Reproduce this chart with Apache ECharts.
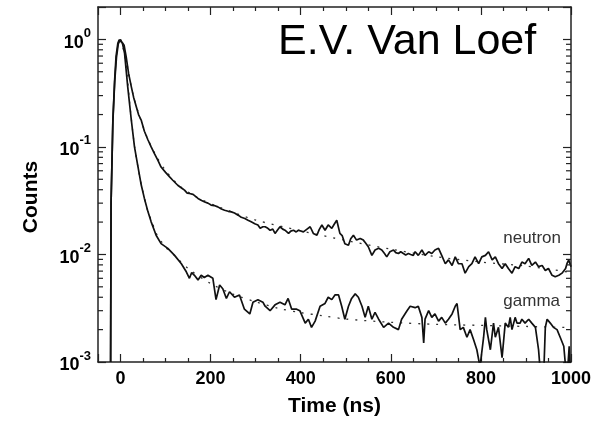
<!DOCTYPE html>
<html>
<head>
<meta charset="utf-8">
<script src="https://cdn.jsdelivr.net/npm/echarts@6/dist/echarts.min.js"></script>
<style>
  html, body { margin: 0; padding: 0; background: #fff; }
  #chart { width: 602px; height: 422px; }
</style>
</head>
<body>
<div id="chart"></div>
<script>
// Scintillation pulse shapes: time (ns) vs normalised counts
const neutronCounts = [
  [-22,0.001],[-21,0.03],[-17,0.17],[-13,0.40],[-9,0.68],[-5,0.91],[-1,0.99],[3,1.0],[8,0.88],[12.5,0.69],
  [18,0.48],[24,0.362],[29,0.29],[35,0.236],[40,0.2],[46,0.177],[53,0.14],[61,0.116],[68,0.1],[75,0.087],
  [83,0.075],[90,0.065],[100,0.058],[109,0.0527],[116,0.049],[120,0.047],[127,0.044],[131,0.0426],[137,0.041],
  [142,0.0396],[148,0.0372],[153,0.0369],[157,0.0356],[161,0.0362],[165,0.035],[172,0.0332],[176,0.0335],
  [180,0.0318],[187,0.0308],[194,0.0300],[198,0.0305],[201,0.0288],[208,0.0285],[212,0.0290],[216,0.0277],
  [224,0.0265],[228,0.0268],[231,0.0258],[239,0.0252],[246,0.0249],[250,0.0240],[253,0.0243],[257,0.0236],
  [261,0.0232],[268,0.0222],[272,0.0225],[276,0.0216],[283,0.0208],[287,0.0212],[290,0.0201],[298,0.0193],
  [302,0.0196],[305,0.0188],[310,0.0175],[316,0.0181],[321,0.0181],[327,0.0175],[332,0.0168],[338,0.0172],
  [343,0.0157],[349,0.0170],[354,0.0181],[360,0.0172],[365,0.0168],[373,0.0157],[378,0.0165],[384,0.0168],
  [390,0.0162],[395,0.0168],[406,0.0162],[414,0.0172],[421,0.0181],[428,0.0157],[436,0.0151],[441,0.0170],
  [447,0.0188],[454,0.0168],[461,0.0188],[469,0.0175],[474,0.0190],[480,0.0208],[487,0.0157],[492,0.0150],
  [498,0.0126],[506,0.0122],[511,0.0140],[517,0.0151],[524,0.0136],[532,0.0141],[539,0.0136],[544,0.0128],
  [550,0.0118],[558,0.0098],[565,0.0110],[573,0.0114],[580,0.0110],[586,0.0102],[591,0.0095],[598,0.0106],
  [606,0.0110],[611,0.0104],[617,0.0102],[622,0.0106],[628,0.0102],[633,0.0099],[639,0.0102],[644,0.0100],
  [650,0.0098],[654,0.0106],[661,0.0098],[669,0.0110],[676,0.0098],[684,0.0106],[691,0.0102],[698,0.0110],
  [706,0.0114],[713,0.0098],[721,0.0082],[728,0.0089],[736,0.0079],[743,0.0095],[750,0.0082],[758,0.0082],
  [765,0.0067],[773,0.0077],[780,0.0082],[787,0.0095],[795,0.0082],[802,0.0095],[810,0.0098],[817,0.0106],
  [825,0.0089],[832,0.0095],[839,0.0082],[847,0.0074],[854,0.0082],[861,0.0074],[869,0.0067],[876,0.0077],
  [884,0.0074],[891,0.0085],[898,0.0082],[906,0.0092],[913,0.0079],[921,0.0085],[928,0.0077],[936,0.0079],
  [943,0.0071],[950,0.0074],[958,0.0064],[965,0.0062],[973,0.0064],[980,0.0067],[988,0.0074],[991,0.0082],
  [995,0.0089],[1000,0.0077]
];

const gammaCounts = [
  [-22,0.001],[-21,0.03],[-17,0.178],[-13,0.42],[-10,0.69],[-6,0.92],[-3,0.99],[0,1.0],[4,0.93],[9,0.74],
  [16,0.362],[24,0.177],[31,0.1],[38,0.068],[46,0.0442],[53,0.0332],[61,0.0249],[68,0.0201],[79,0.0151],
  [90,0.0126],[105,0.0114],[120,0.0098],[135,0.0082],[146,0.0069],[153,0.0060],[158,0.0068],[164,0.0064],
  [172,0.0058],[179,0.0064],[186,0.0061],[194,0.0064],[205,0.0060],[212,0.0038],[220,0.0052],[227,0.0048],
  [235,0.0039],[242,0.0045],[253,0.0040],[264,0.0042],[275,0.0031],[287,0.0028],[294,0.0036],[305,0.0038],
  [316,0.0036],[321,0.0033],[332,0.0030],[343,0.0034],[354,0.0036],[365,0.0034],[372,0.0039],[380,0.0031],
  [391,0.0031],[398,0.0030],[410,0.0023],[417,0.0025],[424,0.0021],[432,0.0024],[443,0.0033],[454,0.0035],
  [461,0.0040],[469,0.0038],[476,0.0042],[484,0.0042],[491,0.0033],[498,0.0025],[506,0.0033],[513,0.0039],
  [521,0.0043],[528,0.0040],[536,0.0033],[543,0.0026],[550,0.0033],[558,0.0025],[565,0.0029],[573,0.0025],
  [584,0.0021],[595,0.0023],[606,0.0021],[617,0.0020],[624,0.0025],[636,0.0030],[643,0.0033],[654,0.0032],
  [661,0.0033],[669,0.0026],[673,0.0015],[676,0.0025],[684,0.0030],[691,0.0026],[698,0.0028],[706,0.0024],
  [713,0.0026],[721,0.0023],[728,0.0025],[736,0.0028],[743,0.0033],[747,0.0035],[754,0.0020],[761,0.0021],
  [769,0.0017],[776,0.0020],[784,0.0016],[791,0.0013],[798,0.0009],[806,0.0017],[810,0.0026],[813,0.0020],
  [821,0.0013],[828,0.0023],[832,0.0017],[839,0.0021],[847,0.0011],[854,0.0023],[861,0.0021],[865,0.0026],
  [869,0.0020],[876,0.0026],[880,0.0023],[887,0.0023],[891,0.0025],[898,0.0023],[906,0.0025],[913,0.0023],
  [921,0.0021],[928,0.0013],[931,0.0009],[940,0.0009],[943,0.0021],[947,0.0025],[954,0.0023],[961,0.0021],
  [969,0.0020],[976,0.0017],[984,0.0014],[988,0.0009],[993,0.0009],[996,0.0014],[998,0.0009]
];

// Fitted decay curves
const neutronFit = [
  [0,1.0],[10,0.741],[20,0.437],[30,0.282],[45,0.178],[60,0.120],[80,0.0813],[100,0.0603],[130,0.0437],
  [170,0.0339],[220,0.0275],[300,0.0209],[400,0.0166],[500,0.0135],[600,0.0112],[700,0.00955],[800,0.0085],
  [900,0.0078],[1000,0.0068]
];
const gammaFit = [
  [0,1.0],[10,0.692],[20,0.263],[30,0.110],[40,0.0603],[50,0.038],[60,0.0257],[70,0.02],[80,0.0155],
  [100,0.0117],[120,0.0098],[150,0.00741],[200,0.00537],[250,0.00427],[300,0.00363],[350,0.00316],
  [400,0.00288],[450,0.00269],[500,0.00251],[600,0.00234],[700,0.00224],[800,0.00219],[900,0.00214],
  [1000,0.00209]
];

// Axis ranges and the 2..9 sub-decade ticks of the log axis
const X_MIN = -50, X_MAX = 1000;
const Y_MIN = 0.001, Y_MAX = 2;
const yMinorTicks = [
  0.002,0.003,0.004,0.005,0.006,0.007,0.008,0.009,
  0.02,0.03,0.04,0.05,0.06,0.07,0.08,0.09,
  0.2,0.3,0.4,0.5,0.6,0.7,0.8,0.9
];

const FONT = '"Liberation Sans", Arial, Helvetica, sans-serif';
const AXIS_COLOR = '#222';

const chart = echarts.init(document.getElementById('chart'), null, { renderer: 'canvas' });

function powerLabel(v) {
  const e = Math.log10(v);
  const r = Math.round(e);
  if (Math.abs(e - r) > 1e-6) return '';
  return '{b|10}{s|' + r + '}';
}

const xAxisCommon = {
  type: 'value', min: X_MIN, max: X_MAX, splitNumber: 5,
  axisLine: { show: true, onZero: false, lineStyle: { color: AXIS_COLOR, width: 1.5 } },
  axisTick: { show: true, inside: true, length: 8, lineStyle: { color: AXIS_COLOR, width: 1.2 } },
  minorTick: { show: true, splitNumber: 4, length: 4, lineStyle: { color: AXIS_COLOR, width: 1.2 } },
  splitLine: { show: false }
};
const yAxisCommon = {
  type: 'log', logBase: 10, min: Y_MIN, max: Y_MAX,
  axisLine: { show: true, onZero: false, lineStyle: { color: AXIS_COLOR, width: 1.5 } },
  axisTick: { show: true, inside: true, length: 8, lineStyle: { color: AXIS_COLOR, width: 1.2 } },
  minorTick: { show: false },
  splitLine: { show: false }
};

chart.setOption({
  animation: false,
  backgroundColor: '#fff',
  grid: { left: 98, right: 31, top: 7, bottom: 60, containLabel: false },
  xAxis: [
    Object.assign({}, xAxisCommon, {
      position: 'bottom',
      name: 'Time (ns)', nameLocation: 'middle', nameGap: 34,
      nameTextStyle: { fontFamily: FONT, fontSize: 21, fontWeight: 'bold', color: '#000' },
      axisLabel: {
        show: true, margin: 8, showMinLabel: false,
        formatter: v => String(v),
        fontFamily: FONT, fontSize: 18, fontWeight: 'bold', color: '#000'
      }
    }),
    Object.assign({}, xAxisCommon, { position: 'top', axisLabel: { show: false } })
  ],
  yAxis: [
    Object.assign({}, yAxisCommon, {
      position: 'left',
      axisLabel: {
        show: true, margin: 7, formatter: powerLabel,
        rich: {
          b: { fontFamily: FONT, fontSize: 18, fontWeight: 'bold', color: '#000', lineHeight: 25, verticalAlign: 'bottom' },
          s: { fontFamily: FONT, fontSize: 13, fontWeight: 'bold', color: '#000', lineHeight: 13, verticalAlign: 'top' }
        }
      }
    }),
    Object.assign({}, yAxisCommon, { position: 'right', axisLabel: { show: false } })
  ],
  graphic: [
    {
      type: 'text', x: 31, y: 197, rotation: Math.PI / 2,
      style: { text: 'Counts', fontFamily: FONT, fontSize: 21, fontWeight: 'bold', fill: '#000', align: 'center', verticalAlign: 'middle' }
    },
    {
      type: 'text', x: 278, y: 42,
      style: { text: 'E.V. Van Loef', fontFamily: FONT, fontSize: 43, fill: '#000', align: 'left', verticalAlign: 'middle' }
    },
    {
      type: 'text', x: 561, y: 238,
      style: { text: 'neutron', fontFamily: FONT, fontSize: 17, fill: '#333', align: 'right', verticalAlign: 'middle' }
    },
    {
      type: 'text', x: 560, y: 301,
      style: { text: 'gamma', fontFamily: FONT, fontSize: 17, fill: '#333', align: 'right', verticalAlign: 'middle' }
    }
  ],
  series: [
    {
      name: 'neutron', type: 'line', data: neutronCounts, showSymbol: false, clip: true,
      lineStyle: { color: '#111', width: 1.7 }, z: 3
    },
    {
      name: 'gamma', type: 'line', data: gammaCounts, showSymbol: false, clip: true,
      lineStyle: { color: '#111', width: 1.7 }, z: 3
    },
    {
      name: 'neutron fit', type: 'line', data: neutronFit, showSymbol: false, smooth: 0.3, clip: true,
      lineStyle: { color: '#333', width: 1.3, type: [2, 7] }, z: 2
    },
    {
      name: 'gamma fit', type: 'line', data: gammaFit, showSymbol: false, smooth: 0.3, clip: true,
      lineStyle: { color: '#333', width: 1.3, type: [2, 7] }, z: 2
    },
    {
      // sub-decade ticks on both vertical frame edges
      name: 'minor ticks', type: 'custom', silent: true, clip: false, z: 4,
      data: yMinorTicks.map(v => [X_MIN, v]),
      renderItem: function (params, api) {
        const v = api.value(1);
        const pl = api.coord([X_MIN, v]);
        const pr = api.coord([X_MAX, v]);
        const st = { stroke: AXIS_COLOR, lineWidth: 1.2 };
        return {
          type: 'group',
          children: [
            { type: 'line', shape: { x1: pl[0], y1: pl[1], x2: pl[0] + 5, y2: pl[1] }, style: st },
            { type: 'line', shape: { x1: pr[0], y1: pr[1], x2: pr[0] - 5, y2: pr[1] }, style: st }
          ]
        };
      }
    }
  ]
});
</script>
</body>
</html>
